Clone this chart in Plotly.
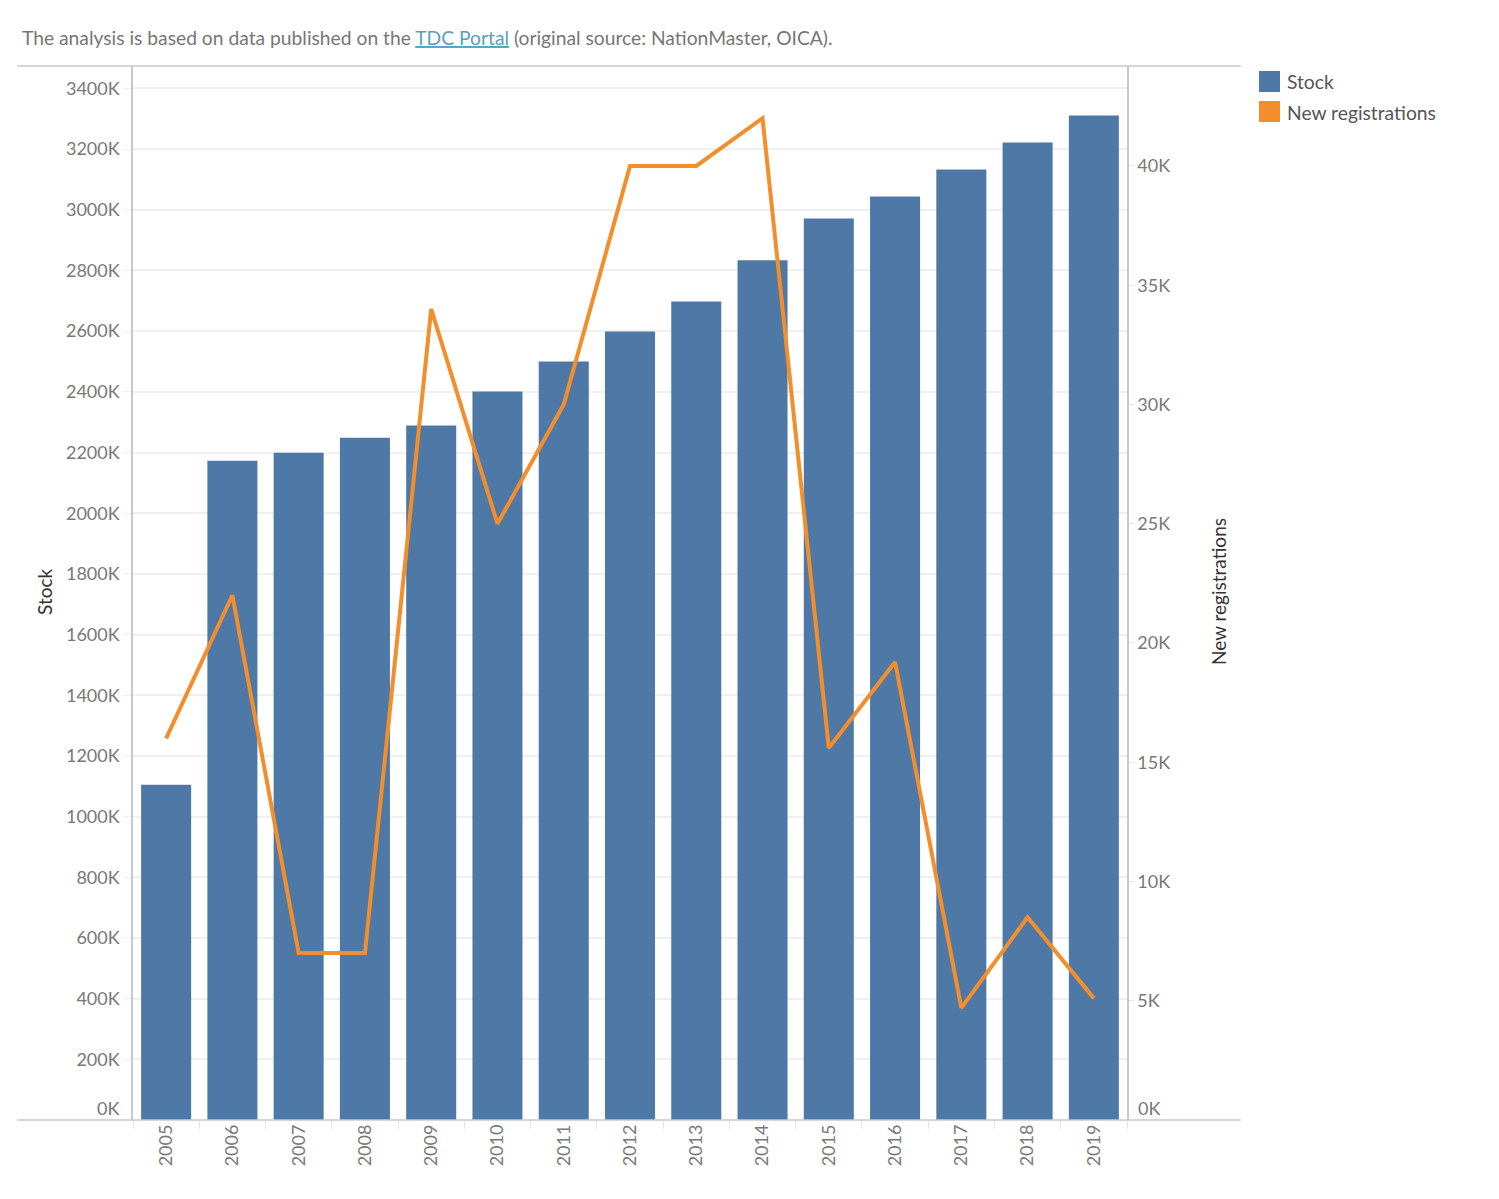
import plotly.graph_objects as go

years = ["2005", "2006", "2007", "2008", "2009", "2010", "2011", "2012", "2013",
         "2014", "2015", "2016", "2017", "2018", "2019"]
stock = [1105000, 2173000, 2199000, 2249000, 2289000, 2401000, 2500000, 2599000,
         2698000, 2834000, 2971000, 3044000, 3133000, 3222000, 3311000]
new_reg = [16000, 22000, 7000, 7000, 34000, 25000, 30000, 40000, 40000,
           42000, 15600, 19200, 4700, 8500, 5100]
stock_ticks = list(range(200000, 3400001, 200000))
stock_tick_text = [f"{v // 1000}K" for v in stock_ticks]
reg_ticks = list(range(5000, 40001, 5000))
reg_tick_text = [f"{v // 1000}K" for v in reg_ticks]

BLUE = "#4e79a7"
ORANGE = "#f28e2b"
FONT = "Lato"
TICK_COLOR = "#787878"

# pixel layout
W, H = 1499, 1199
L, R, T, B = 133, 1127, 66, 1120
PW, PH = R - L, B - T

def px(x):
    return (x - L) / PW

def py(y):
    return (B - y) / PH

fig = go.Figure()
fig.add_trace(go.Bar(x=years, y=stock, marker=dict(color=BLUE, line=dict(width=0)),
                     name="Stock", showlegend=False, yaxis="y"))
fig.add_trace(go.Scatter(x=years, y=new_reg, mode="lines",
                         line=dict(color=ORANGE, width=4), name="New registrations",
                         showlegend=False, yaxis="y2"))

fig.update_layout(
    width=W, height=H,
    margin=dict(l=L, r=W - R, t=T, b=H - B, autoexpand=False),
    paper_bgcolor="white", plot_bgcolor="white",
    font=dict(family=FONT, size=18, color=TICK_COLOR),
    bargap=0.245,
    xaxis=dict(type="category", tickangle=-90, showgrid=False, showline=False,
               ticks="outside", tickson="boundaries", ticklen=8, tickcolor="#e6e6e6",
               tickfont=dict(size=18, color=TICK_COLOR), zeroline=False),
    yaxis=dict(range=[0, 3474000], tickvals=stock_ticks, ticktext=stock_tick_text,
               showgrid=True, gridcolor="#f0f0f0", gridwidth=1.5,
               showline=True, linecolor="#c8c8c8", linewidth=1.5,
               ticks="outside", ticklen=8, tickcolor="#f0f0f0",
               tickfont=dict(size=18, color=TICK_COLOR), zeroline=False),
    yaxis2=dict(range=[0, 44190], overlaying="y", side="right",
                tickvals=reg_ticks, ticktext=reg_tick_text, showgrid=False,
                showline=True, linecolor="#c8c8c8", linewidth=1.5,
                ticks="outside", ticklen=5, tickcolor="#e6e6e6",
                tickfont=dict(size=18, color=TICK_COLOR), zeroline=False),
    showlegend=False,
)

shapes = [
    # top and bottom frame lines extending beyond the plot area
    dict(type="line", xref="paper", yref="paper", x0=px(17), x1=px(1241), y0=py(66), y1=py(66),
         line=dict(color="#c8c8c8", width=1.5)),
    dict(type="line", xref="paper", yref="paper", x0=px(17), x1=px(1241), y0=py(1120), y1=py(1120),
         line=dict(color="#c8c8c8", width=1.5)),
    # legend swatches
    dict(type="rect", xref="paper", yref="paper", x0=px(1259), x1=px(1280), y0=py(92), y1=py(71),
         fillcolor=BLUE, line=dict(width=0)),
    dict(type="rect", xref="paper", yref="paper", x0=px(1259), x1=px(1280), y0=py(122), y1=py(101),
         fillcolor=ORANGE, line=dict(width=0)),
]
fig.update_layout(shapes=shapes)

annotations = [
    dict(xref="paper", yref="paper", x=px(20), y=py(38), xanchor="left", yanchor="middle",
         showarrow=False, font=dict(family=FONT, size=19.25, color="#767676"),
         text='The analysis is based on data published on the '
              '<span style="color:#5a9fbb;text-decoration:underline">TDC Portal</span>'
              ' (original source: NationMaster, OICA).'),
    dict(xref="paper", yref="paper", x=px(44), y=py(592), xanchor="center", yanchor="middle",
         showarrow=False, textangle=-90, font=dict(family=FONT, size=19, color="#333333"),
         text="Stock"),
    dict(xref="paper", yref="paper", x=px(1218), y=py(592), xanchor="center", yanchor="middle",
         showarrow=False, textangle=-90, font=dict(family=FONT, size=19, color="#333333"),
         text="New registrations"),
    dict(xref="paper", yref="paper", x=px(1285), y=py(82), xanchor="left", yanchor="middle",
         showarrow=False, font=dict(family=FONT, size=19.25, color="#555555"), text="Stock"),
    dict(xref="paper", yref="paper", x=px(1285), y=py(112), xanchor="left", yanchor="middle",
         showarrow=False, font=dict(family=FONT, size=19.25, color="#555555"), text="New registrations"),
    # zero labels sit just above the baseline, as in the original
    dict(xref="paper", yref="y", x=px(121), y=0, yshift=12, xanchor="right", yanchor="middle",
         showarrow=False, font=dict(family=FONT, size=18, color=TICK_COLOR), text="0K"),
    dict(xref="paper", yref="y2", x=px(1136), y=0, yshift=12, xanchor="left", yanchor="middle",
         showarrow=False, font=dict(family=FONT, size=18, color=TICK_COLOR), text="0K"),
]
fig.update_layout(annotations=annotations)

fig.write_html("out.html", config={"displayModeBar": False},
               post_script="document.body.style.margin='0px';")
